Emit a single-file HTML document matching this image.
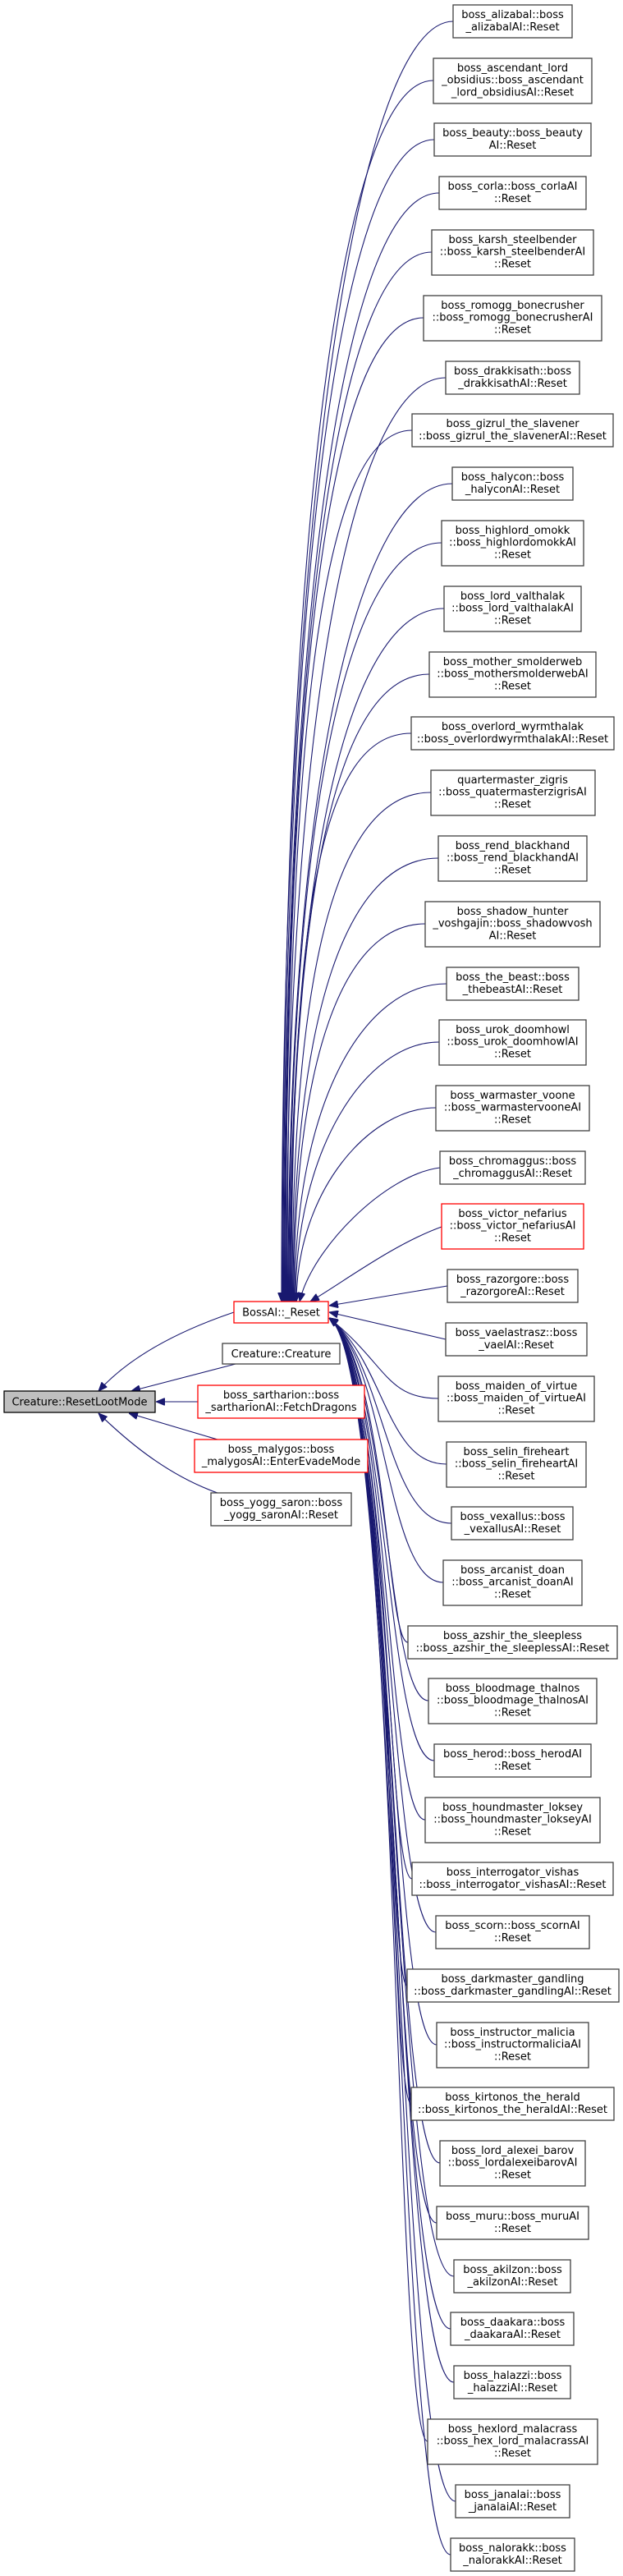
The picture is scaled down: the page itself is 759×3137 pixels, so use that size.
<!DOCTYPE html>
<html><head><meta charset="utf-8"><style>
html,body{margin:0;padding:0;background:#fff;}
svg{display:block;}
text{font-family:"DejaVu Sans","Liberation Sans",sans-serif;font-size:13px;fill:#000;text-anchor:middle;}
.b{fill:#fff;stroke:#404040;stroke-width:1.3;}
.r{fill:#fff;stroke:#ff0000;stroke-width:1.3;}
.e{fill:none;stroke:#191970;stroke-width:1.1;}
</style></head><body>
<svg width="759" height="3137" viewBox="0 0 759 3137" xmlns="http://www.w3.org/2000/svg">
<defs><marker id="a" markerWidth="11" markerHeight="9" refX="11" refY="4.5" orient="auto" markerUnits="userSpaceOnUse"><path d="M0,0 L11,4.5 L0,9 z" fill="#191970" stroke="#191970"/></marker></defs>
<g class="e" marker-end="url(#a)">
<path d="M552,26 C442,26 343,569 343,1585"/>
<path d="M528,98 C418,98 344,615 344,1585"/>
<path d="M529,170 C419,170 345,670 345,1585"/>
<path d="M535,235 C425,235 346,690 346,1585"/>
<path d="M526,307 C416,307 347,740 347,1585"/>
<path d="M516,387 C406,387 348,790 348,1585"/>
<path d="M543,460 C433,460 349,850 349,1585"/>
<path d="M502,524 C392,524 350,880 350,1585"/>
<path d="M551,589 C441,589 351,930 351,1585"/>
<path d="M538,661 C428,661 352,970 352,1585"/>
<path d="M541,741 C431,741 353,1020 353,1585"/>
<path d="M523,821 C413,821 354,1070 354,1585"/>
<path d="M501,893 C391,893 355,1110 355,1585"/>
<path d="M525,965 C415,965 356,1160 356,1585"/>
<path d="M534,1045 C424,1045 357,1230 357,1585"/>
<path d="M518,1125 C418,1125 358,1290 358,1585"/>
<path d="M544,1198 C444,1198 359,1340 359,1585"/>
<path d="M535,1269 C445,1269 360,1400 360,1585"/>
<path d="M531,1349 C450,1349 362,1450 361,1585"/>
<path d="M536,1422 C470,1430 380,1520 365,1585"/>
<path d="M538,1494 C480,1515 420,1560 378,1585"/>
<path d="M545,1566 L401,1590"/>
<path d="M543,1631 L401,1598"/>
<path d="M534,1703 C470,1703 470,1660 401,1605"/>
<path d="M544,1783 C470,1783 470,1660 401,1605"/>
<path d="M550,1855 C470,1855 470,1660 401,1605"/>
<path d="M540,1927 C470,1927 472,1660 401,1605"/>
<path d="M497,2000 C470,2000 472,1660 401,1605"/>
<path d="M522,2071 C470,2071 474,1660 401,1605"/>
<path d="M529,2144 C470,2144 474,1660 401,1605"/>
<path d="M518,2216 C470,2216 476,1660 401,1605"/>
<path d="M502,2288 C470,2288 476,1660 401,1605"/>
<path d="M531,2353 C472,2353 478,1660 401,1605"/>
<path d="M496,2418 C472,2418 478,1660 401,1605"/>
<path d="M532,2490 C474,2490 480,1660 401,1605"/>
<path d="M501,2562 C474,2562 480,1660 401,1605"/>
<path d="M536,2634 C476,2634 482,1660 401,1605"/>
<path d="M532,2707 C476,2707 482,1660 401,1605"/>
<path d="M553,2772 C478,2772 484,1660 401,1605"/>
<path d="M549,2836 C478,2836 484,1660 401,1605"/>
<path d="M553,2901 C480,2901 486,1660 401,1605"/>
<path d="M521,2973 C480,2973 486,1660 401,1605"/>
<path d="M555,3046 C482,3046 488,1660 401,1605"/>
<path d="M549,3111 C482,3111 488,1660 401,1605"/>
<path d="M285,1598 C220,1620 160,1650 120,1694"/>
<path d="M287,1661 L160,1694"/>
<path d="M241,1707 L190,1707"/>
<path d="M265,1753 L157,1721"/>
<path d="M265,1818 C200,1795 150,1750 120,1721"/>
</g>

<rect x="5" y="1694" width="184" height="26" fill="#bfbfbf" stroke="#000" stroke-width="1.3"/><text x="97" y="1711.5">Creature::ResetLootMode</text>
<rect class="r" x="285" y="1585" width="115" height="26"/><text x="342.5" y="1602.5">BossAI::_Reset</text>
<rect class="b" x="271" y="1636" width="143" height="25"/><text x="342.5" y="1653">Creature::Creature</text>
<rect class="r" x="241" y="1687" width="203" height="40"/><text x="342.5" y="1703">boss_sartharion::boss</text><text x="342.5" y="1718">_sartharionAI::FetchDragons</text>
<rect class="r" x="237" y="1753" width="211" height="40"/><text x="342.5" y="1769">boss_malygos::boss</text><text x="342.5" y="1784">_malygosAI::EnterEvadeMode</text>
<rect class="b" x="257" y="1818" width="171" height="40"/><text x="342.5" y="1834">boss_yogg_saron::boss</text><text x="342.5" y="1849">_yogg_saronAI::Reset</text>

<rect class="b" x="552" y="6" width="145" height="40"/><text x="624.5" y="22">boss_alizabal::boss</text><text x="624.5" y="37">_alizabalAI::Reset</text>
<rect class="b" x="528" y="71" width="193" height="55"/><text x="624.5" y="87">boss_ascendant_lord</text><text x="624.5" y="101.5">_obsidius::boss_ascendant</text><text x="624.5" y="116.5">_lord_obsidiusAI::Reset</text>
<rect class="b" x="529" y="150" width="191" height="40"/><text x="624.5" y="166">boss_beauty::boss_beauty</text><text x="624.5" y="181">AI::Reset</text>
<rect class="b" x="535" y="215" width="179" height="40"/><text x="624.5" y="231">boss_corla::boss_corlaAI</text><text x="624.5" y="246">::Reset</text>
<rect class="b" x="526" y="280" width="197" height="55"/><text x="624.5" y="296">boss_karsh_steelbender</text><text x="624.5" y="310.5">::boss_karsh_steelbenderAI</text><text x="624.5" y="325.5">::Reset</text>
<rect class="b" x="516" y="360" width="217" height="55"/><text x="624.5" y="376">boss_romogg_bonecrusher</text><text x="624.5" y="390.5">::boss_romogg_bonecrusherAI</text><text x="624.5" y="405.5">::Reset</text>
<rect class="b" x="543" y="440" width="163" height="40"/><text x="624.5" y="456">boss_drakkisath::boss</text><text x="624.5" y="471">_drakkisathAI::Reset</text>
<rect class="b" x="502" y="504" width="245" height="40"/><text x="624.5" y="520">boss_gizrul_the_slavener</text><text x="624.5" y="535">::boss_gizrul_the_slavenerAI::Reset</text>
<rect class="b" x="551" y="569" width="147" height="40"/><text x="624.5" y="585">boss_halycon::boss</text><text x="624.5" y="600">_halyconAI::Reset</text>
<rect class="b" x="538" y="634" width="173" height="55"/><text x="624.5" y="650">boss_highlord_omokk</text><text x="624.5" y="664.5">::boss_highlordomokkAI</text><text x="624.5" y="679.5">::Reset</text>
<rect class="b" x="541" y="714" width="167" height="55"/><text x="624.5" y="730">boss_lord_valthalak</text><text x="624.5" y="744.5">::boss_lord_valthalakAI</text><text x="624.5" y="759.5">::Reset</text>
<rect class="b" x="523" y="794" width="203" height="55"/><text x="624.5" y="810">boss_mother_smolderweb</text><text x="624.5" y="824.5">::boss_mothersmolderwebAI</text><text x="624.5" y="839.5">::Reset</text>
<rect class="b" x="501" y="873" width="247" height="40"/><text x="624.5" y="889">boss_overlord_wyrmthalak</text><text x="624.5" y="904">::boss_overlordwyrmthalakAI::Reset</text>
<rect class="b" x="525" y="938" width="200" height="55"/><text x="624.5" y="954">quartermaster_zigris</text><text x="624.5" y="968.5">::boss_quatermasterzigrisAI</text><text x="624.5" y="983.5">::Reset</text>
<rect class="b" x="534" y="1018" width="181" height="55"/><text x="624.5" y="1034">boss_rend_blackhand</text><text x="624.5" y="1048.5">::boss_rend_blackhandAI</text><text x="624.5" y="1063.5">::Reset</text>
<rect class="b" x="518" y="1098" width="213" height="55"/><text x="624.5" y="1114">boss_shadow_hunter</text><text x="624.5" y="1128.5">_voshgajin::boss_shadowvosh</text><text x="624.5" y="1143.5">AI::Reset</text>
<rect class="b" x="544" y="1178" width="161" height="40"/><text x="624.5" y="1194">boss_the_beast::boss</text><text x="624.5" y="1209">_thebeastAI::Reset</text>
<rect class="b" x="535" y="1242" width="179" height="55"/><text x="624.5" y="1258">boss_urok_doomhowl</text><text x="624.5" y="1272.5">::boss_urok_doomhowlAI</text><text x="624.5" y="1287.5">::Reset</text>
<rect class="b" x="531" y="1322" width="187" height="55"/><text x="624.5" y="1338">boss_warmaster_voone</text><text x="624.5" y="1352.5">::boss_warmastervooneAI</text><text x="624.5" y="1367.5">::Reset</text>
<rect class="b" x="536" y="1402" width="177" height="40"/><text x="624.5" y="1418">boss_chromaggus::boss</text><text x="624.5" y="1433">_chromaggusAI::Reset</text>
<rect class="r" x="538" y="1466" width="173" height="55"/><text x="624.5" y="1482">boss_victor_nefarius</text><text x="624.5" y="1496.5">::boss_victor_nefariusAI</text><text x="624.5" y="1511.5">::Reset</text>
<rect class="b" x="545" y="1546" width="159" height="40"/><text x="624.5" y="1562">boss_razorgore::boss</text><text x="624.5" y="1577">_razorgoreAI::Reset</text>
<rect class="b" x="543" y="1611" width="172" height="40"/><text x="629" y="1627">boss_vaelastrasz::boss</text><text x="629" y="1642">_vaelAI::Reset</text>
<rect class="b" x="534" y="1676" width="190" height="55"/><text x="629" y="1692">boss_maiden_of_virtue</text><text x="629" y="1706.5">::boss_maiden_of_virtueAI</text><text x="629" y="1721.5">::Reset</text>
<rect class="b" x="544" y="1756" width="170" height="55"/><text x="629" y="1772">boss_selin_fireheart</text><text x="629" y="1786.5">::boss_selin_fireheartAI</text><text x="629" y="1801.5">::Reset</text>
<rect class="b" x="550" y="1835" width="148" height="40"/><text x="624.5" y="1851">boss_vexallus::boss</text><text x="624.5" y="1866">_vexallusAI::Reset</text>
<rect class="b" x="540" y="1900" width="169" height="55"/><text x="624.5" y="1916">boss_arcanist_doan</text><text x="624.5" y="1930.5">::boss_arcanist_doanAI</text><text x="624.5" y="1945.5">::Reset</text>
<rect class="b" x="497" y="1980" width="255" height="40"/><text x="624.5" y="1996">boss_azshir_the_sleepless</text><text x="624.5" y="2011">::boss_azshir_the_sleeplessAI::Reset</text>
<rect class="b" x="522" y="2044" width="205" height="55"/><text x="624.5" y="2060">boss_bloodmage_thalnos</text><text x="624.5" y="2074.5">::boss_bloodmage_thalnosAI</text><text x="624.5" y="2089.5">::Reset</text>
<rect class="b" x="529" y="2124" width="191" height="40"/><text x="624.5" y="2140">boss_herod::boss_herodAI</text><text x="624.5" y="2155">::Reset</text>
<rect class="b" x="518" y="2189" width="213" height="55"/><text x="624.5" y="2205">boss_houndmaster_loksey</text><text x="624.5" y="2219.5">::boss_houndmaster_lokseyAI</text><text x="624.5" y="2234.5">::Reset</text>
<rect class="b" x="502" y="2268" width="245" height="40"/><text x="624.5" y="2284">boss_interrogator_vishas</text><text x="624.5" y="2299">::boss_interrogator_vishasAI::Reset</text>
<rect class="b" x="531" y="2333" width="187" height="40"/><text x="624.5" y="2349">boss_scorn::boss_scornAI</text><text x="624.5" y="2364">::Reset</text>
<rect class="b" x="496" y="2398" width="258" height="40"/><text x="624.5" y="2414">boss_darkmaster_gandling</text><text x="624.5" y="2429">::boss_darkmaster_gandlingAI::Reset</text>
<rect class="b" x="532" y="2463" width="185" height="55"/><text x="624.5" y="2479">boss_instructor_malicia</text><text x="624.5" y="2493.5">::boss_instructormaliciaAI</text><text x="624.5" y="2508.5">::Reset</text>
<rect class="b" x="501" y="2542" width="247" height="40"/><text x="624.5" y="2558">boss_kirtonos_the_herald</text><text x="624.5" y="2573">::boss_kirtonos_the_heraldAI::Reset</text>
<rect class="b" x="536" y="2607" width="177" height="55"/><text x="624.5" y="2623">boss_lord_alexei_barov</text><text x="624.5" y="2637.5">::boss_lordalexeibarovAI</text><text x="624.5" y="2652.5">::Reset</text>
<rect class="b" x="532" y="2687" width="185" height="40"/><text x="624.5" y="2703">boss_muru::boss_muruAI</text><text x="624.5" y="2718">::Reset</text>
<rect class="b" x="553" y="2752" width="142" height="40"/><text x="624.5" y="2768">boss_akilzon::boss</text><text x="624.5" y="2783">_akilzonAI::Reset</text>
<rect class="b" x="549" y="2816" width="150" height="40"/><text x="624.5" y="2832">boss_daakara::boss</text><text x="624.5" y="2847">_daakaraAI::Reset</text>
<rect class="b" x="553" y="2881" width="142" height="40"/><text x="624.5" y="2897">boss_halazzi::boss</text><text x="624.5" y="2912">_halazziAI::Reset</text>
<rect class="b" x="521" y="2946" width="207" height="55"/><text x="624.5" y="2962">boss_hexlord_malacrass</text><text x="624.5" y="2976.5">::boss_hex_lord_malacrassAI</text><text x="624.5" y="2991.5">::Reset</text>
<rect class="b" x="555" y="3026" width="139" height="40"/><text x="624.5" y="3042">boss_janalai::boss</text><text x="624.5" y="3057">_janalaiAI::Reset</text>
<rect class="b" x="549" y="3091" width="151" height="40"/><text x="624.5" y="3107">boss_nalorakk::boss</text><text x="624.5" y="3122">_nalorakkAI::Reset</text>
</svg>
</body></html>
